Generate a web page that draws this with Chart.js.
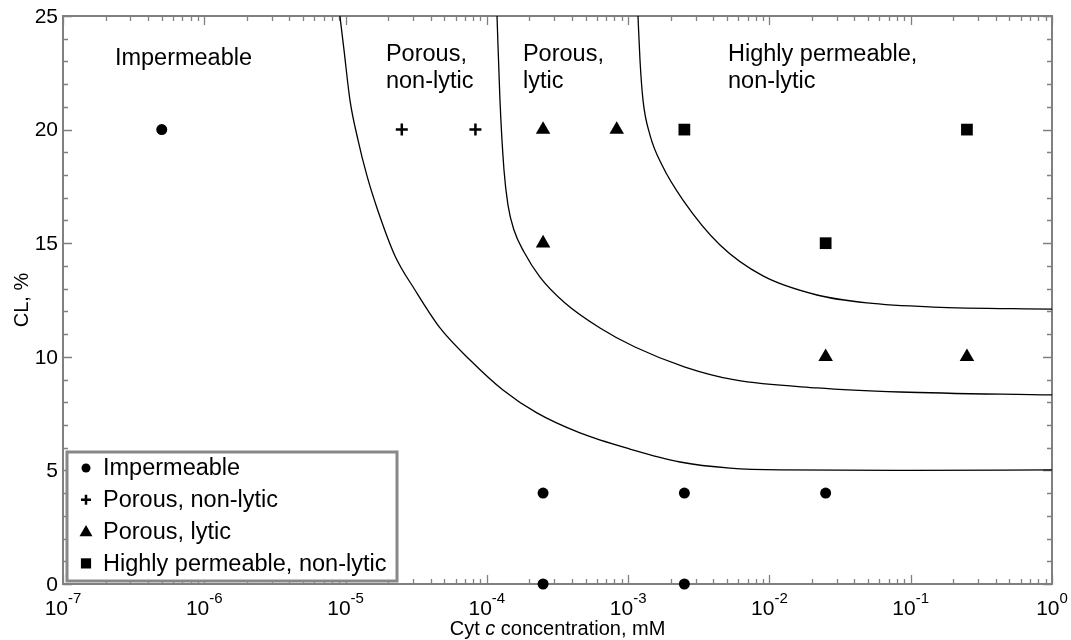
<!DOCTYPE html>
<html>
<head>
<meta charset="utf-8">
<script src="https://cdn.jsdelivr.net/npm/chart.js@4/dist/chart.umd.min.js"></script>
<style>
  html, body { margin: 0; padding: 0; background: #fff; }
  #wrap { width: 1071px; height: 640px; }
</style>
</head>
<body>
<div id="wrap"><canvas id="chart" width="1071" height="640"></canvas></div>
<script>
// measured points (Cyt c in mM, CL in %)
const impermeableX = [5e-7, 2.5e-4, 2.5e-3, 2.5e-2, 2.5e-4, 2.5e-3];
const impermeableY = [20, 4, 4, 4, 0, 0];
const porousNonLyticX = [2.5e-5, 8.3e-5];
const porousNonLyticY = [20, 20];
const porousLyticX = [2.5e-4, 8.3e-4, 2.5e-4, 2.5e-2, 2.5e-1];
const porousLyticY = [20, 20, 15, 10, 10];
const highlyPermX = [2.5e-3, 2.5e-1, 2.5e-2];
const highlyPermY = [20, 20, 15];

// boundary curves between regions
const boundary1X = [9.12e-6, 9.75e-6, 1.074e-5, 1.225e-5, 1.418e-5, 1.696e-5, 2.239e-5, 3.1e-5, 4.66e-5, 7.6e-5, 1.3e-4, 2.26e-4, 4.56e-4, 1.03e-3, 2.33e-3, 5.26e-3, 1.19e-2, 0.1, 1];
const boundary1Y = [25, 23.5, 21.3, 19.54, 17.96, 16.42, 14.44, 12.94, 11.27, 9.86, 8.54, 7.53, 6.65, 5.94, 5.37, 5.1, 5.02, 5.0, 5.02];
const boundary2X = [1.18e-4, 1.238e-4, 1.322e-4, 1.411e-4, 1.556e-4, 1.832e-4, 2.377e-4, 3.573e-4, 6.32e-4, 1.117e-3, 2.525e-3, 5.7e-3, 2.17e-2, 8.39e-2, 1];
const boundary2Y = [25, 21.3, 18.22, 16.68, 15.58, 14.61, 13.51, 12.37, 11.27, 10.43, 9.55, 8.98, 8.63, 8.45, 8.32];
const boundary3X = [1.174e-3, 1.213e-3, 1.274e-3, 1.428e-3, 1.736e-3, 2.444e-3, 4.47e-3, 9.0e-3, 2.17e-2, 4.9e-2, 0.144, 1];
const boundary3Y = [25, 23.06, 21.3, 19.76, 18.44, 16.9, 14.92, 13.56, 12.72, 12.37, 12.19, 12.1];

// axis ticks
const xDecades = [-7, -6, -5, -4, -3, -2, -1, 0];
const yMajorTicks = [0, 5, 10, 15, 20, 25];

// region captions: [x value, first line, second line]
const regionLabels = [
  [2.33e-7, 'Impermeable', ''],
  [1.93e-5, 'Porous,', 'non-lytic'],
  [1.8e-4, 'Porous,', 'lytic'],
  [5.09e-3, 'Highly permeable,', 'non-lytic'],
];

const FONT = '"Liberation Sans", Arial, sans-serif';
const pts = (xs, ys) => xs.map((x, i) => ({ x, y: ys[i] }));

const markerSet = (label, xs, ys, style, radius, bw) => ({
  label,
  data: pts(xs, ys),
  pointStyle: style,
  pointRadius: radius,
  pointHoverRadius: radius,
  pointBorderWidth: bw,
  backgroundColor: '#000',
  borderColor: '#000',
  showLine: false,
  clip: false,
});

const curve = (xs, ys) => ({
  label: '',
  data: pts(xs, ys),
  showLine: true,
  borderColor: '#000',
  borderWidth: 1.3,
  pointRadius: 0,
  cubicInterpolationMode: 'monotone',
});

const markers = [
  markerSet('Impermeable', impermeableX, impermeableY, 'circle', 5.5, 0),
  markerSet('Porous, non-lytic', porousNonLyticX, porousNonLyticY, 'cross', 6, 2.5),
  markerSet('Porous, lytic', porousLyticX, porousLyticY, 'triangle', 8.4, 0),
  markerSet('Highly permeable, non-lytic', highlyPermX, highlyPermY, 'rect', 8.3, 0),
];

// frame, inward ticks, labels, captions and boxed legend
const decorations = {
  id: 'decorations',
  beforeDatasetsDraw(chart) {
    const { ctx, chartArea: a, scales: { x, y } } = chart;
    ctx.save();

    // ticks
    ctx.strokeStyle = '#808080';
    ctx.lineWidth = 1.3;
    ctx.beginPath();
    xDecades.forEach(d => {
      for (let k = 1; k <= 9; k++) {
        if (d === 0 && k > 1) break;
        const px = Math.round(x.getPixelForValue(k * Math.pow(10, d))) + 0.5;
        const len = k === 1 ? 9 : 5;
        ctx.moveTo(px, a.bottom); ctx.lineTo(px, a.bottom - len);
        ctx.moveTo(px, a.top); ctx.lineTo(px, a.top + len);
      }
    });
    for (let v = 0; v <= 25; v++) {
      const py = Math.round(y.getPixelForValue(v)) + 0.5;
      const len = v % 5 === 0 ? 9 : 5;
      ctx.moveTo(a.left, py); ctx.lineTo(a.left + len, py);
      ctx.moveTo(a.right, py); ctx.lineTo(a.right - len, py);
    }
    ctx.stroke();

    // frame
    ctx.lineWidth = 2;
    ctx.strokeRect(a.left, a.top, a.right - a.left, a.bottom - a.top);

    ctx.fillStyle = '#000';
    // y tick labels
    ctx.font = '21px ' + FONT;
    ctx.textAlign = 'right';
    ctx.textBaseline = 'middle';
    yMajorTicks.forEach(v => ctx.fillText(String(v), a.left - 5, y.getPixelForValue(v) + 1));

    // x tick labels as 10 with superscript
    ctx.textAlign = 'left';
    ctx.textBaseline = 'alphabetic';
    xDecades.forEach(d => {
      const px = x.getPixelForValue(Math.pow(10, d));
      ctx.font = '21px ' + FONT;
      const wb = ctx.measureText('10').width;
      ctx.font = '15px ' + FONT;
      const we = ctx.measureText(String(d)).width;
      const x0 = px - (wb + we) / 2;
      ctx.font = '21px ' + FONT;
      ctx.fillText('10', x0, 615);
      ctx.font = '15px ' + FONT;
      ctx.fillText(String(d), x0 + wb, 603);
    });

    // x axis title with italic c
    const parts = [['Cyt ', ''], ['c', 'italic '], [' concentration, mM', '']];
    let total = 0;
    parts.forEach(([t, s]) => { ctx.font = s + '20px ' + FONT; total += ctx.measureText(t).width; });
    let tx = (a.left + a.right) / 2 - total / 2;
    parts.forEach(([t, s]) => {
      ctx.font = s + '20px ' + FONT;
      ctx.fillText(t, tx, 635);
      tx += ctx.measureText(t).width;
    });

    // y axis title
    ctx.save();
    ctx.translate(28, (a.top + a.bottom) / 2);
    ctx.rotate(-Math.PI / 2);
    ctx.textAlign = 'center';
    ctx.font = '20px ' + FONT;
    ctx.fillText('CL, %', 0, 0);
    ctx.restore();

    // region captions
    ctx.font = '23.5px ' + FONT;
    ctx.textAlign = 'left';
    regionLabels.forEach(([xv, l1, l2], i) => {
      const px = x.getPixelForValue(xv);
      const base = i === 0 ? 65 : 61;
      ctx.fillText(l1, px, base);
      if (l2) ctx.fillText(l2, px, base + 27);
    });

    ctx.restore();
  },
  afterDatasetsDraw(chart) {
    const { ctx } = chart;
    ctx.save();
    // legend box
    const bx = 67, by = 452, bw = 330, bh = 129;
    ctx.fillStyle = '#fff';
    ctx.fillRect(bx, by, bw, bh);
    ctx.strokeStyle = '#888';
    ctx.lineWidth = 3;
    ctx.strokeRect(bx, by, bw, bh);
    markers.forEach((ds, i) => {
      const cy = 468 + i * 31.8;
      ctx.fillStyle = '#000';
      ctx.strokeStyle = '#000';
      ctx.lineWidth = ds.pointBorderWidth;
      const r = ds.pointStyle === 'circle' ? 4.5 : ds.pointStyle === 'cross' ? 5 : ds.pointStyle === 'triangle' ? 7.5 : 7.2;
      Chart.helpers.drawPoint(ctx, { pointStyle: ds.pointStyle, radius: r, borderWidth: ds.pointBorderWidth, rotation: 0 }, 86, cy + (ds.pointStyle === 'triangle' ? 1 : 0));
      ctx.font = '23.5px ' + FONT;
      ctx.textBaseline = 'middle';
      ctx.textAlign = 'left';
      ctx.fillText(ds.label, 103, cy + 1);
    });
    ctx.restore();
  }
};

new Chart(document.getElementById('chart'), {
  type: 'scatter',
  data: {
    datasets: [
      curve(boundary1X, boundary1Y),
      curve(boundary2X, boundary2Y),
      curve(boundary3X, boundary3Y),
      ...markers,
    ],
  },
  options: {
    responsive: false,
    animation: false,
    devicePixelRatio: 1,
    layout: { padding: { left: 63, top: 16, right: 19, bottom: 56 } },
    plugins: { legend: { display: false }, tooltip: { enabled: false } },
    scales: {
      x: { type: 'logarithmic', min: 1e-7, max: 1, display: false },
      y: { type: 'linear', min: 0, max: 25, display: false },
    },
  },
  plugins: [decorations],
});
</script>
</body>
</html>
